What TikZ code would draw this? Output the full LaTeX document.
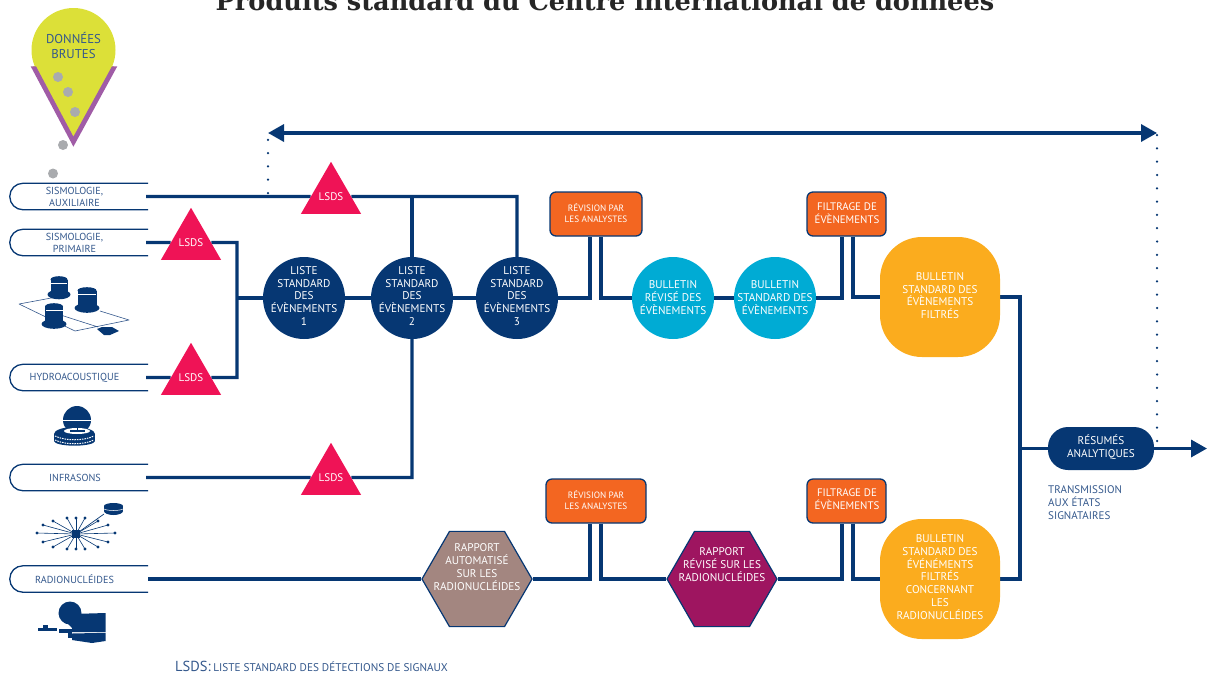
\documentclass[tikz,border=0pt]{standalone}
\usepackage{fontspec}
\setmainfont{PT Sans}
\newfontfamily\titlefont{DejaVu Serif}
\usetikzlibrary{shapes.geometric,arrows.meta}
\definecolor{navy}{HTML}{063773}
\definecolor{tabtxt}{HTML}{34588C}
\definecolor{magen}{HTML}{EF1356}
\definecolor{orng}{HTML}{F36621}
\definecolor{cyanb}{HTML}{00ABD4}
\definecolor{gold}{HTML}{FBAC1E}
\definecolor{brownh}{HTML}{A38680}
\definecolor{purph}{HTML}{9E1560}
\definecolor{lime}{HTML}{DCE038}
\definecolor{purpv}{HTML}{A05CA6}
\definecolor{grayd}{HTML}{A9ABAE}
\pgfdeclarelayer{wires}
\pgfsetlayers{wires,main}
\newcommand{\fs}[2]{\fontsize{#1}{#2}\selectfont}
\newcommand{\cylicon}[5]{%
  \fill[navy] (#1,#3) ellipse [x radius=#5 pt,y radius=4.8pt];
  \fill[navy] (#1-#4,#2) rectangle (#1+#4,#3-2);
  \fill[navy] (#1,#2) ellipse [x radius=#4 pt,y radius=3.3pt];
  \draw[white,line width=.5pt] (#1-#4+.5,#2+3.5) -- (#1+#4-.5,#2+3.5);
}
\tikzset{
  x=1pt,y=-1pt,
  wire/.style={draw=navy,line width=3.4pt,line join=miter,line cap=butt},
  dots/.style={draw=navy,line width=2.5pt,line cap=round,dash pattern=on 0pt off 13.3pt},
  tabnode/.style={minimum width=138pt,minimum height=26pt,inner sep=0pt},
  tablab/.style={inner sep=0pt,text=tabtxt,align=center,font=\fs{10.2}{11.8}},
  tabline/.style={draw=navy,line width=1.3pt,rounded corners=13pt},
  tri/.style={regular polygon,regular polygon sides=3,fill=magen,minimum size=66pt,inner sep=0pt,text=white,font=\fs{11}{12}},
  circ/.style={circle,minimum size=82pt,inner sep=0pt},
  listec/.style={circ,fill=navy},
  bullc/.style={circ,fill=cyanb},
  revbox/.style={rectangle,draw=navy,line width=1.3pt,fill=orng,rounded corners=6pt,inner sep=0pt,minimum height=44pt},
  goldb/.style={rectangle,fill=gold,rounded corners=42pt,minimum width=120pt,minimum height=120pt,inner sep=0pt},
  hexa/.style={regular polygon,regular polygon sides=6,draw=navy,line width=1.2pt,minimum size=110pt,inner sep=0pt},
  lab/.style={text=white,align=center,font=\fs{11.2}{12.8},inner sep=0pt},
  labhex/.style={text=white,align=center,font=\fs{11.2}{13},inner sep=0pt},
  labrev/.style={text=white,align=center,font=\fs{9.2}{10.6},inner sep=0pt},
  labfil/.style={text=white,align=center,font=\fs{10.9}{12.8},inner sep=0pt},
  pill/.style={rectangle,fill=navy,rounded corners=20pt,minimum width=106pt,minimum height=43pt,inner sep=0pt},
}
\begin{document}
\begin{tikzpicture}
\useasboundingbox (0,0) rectangle (1209,673);
% title
\node[font={\titlefont\bfseries\fs{25.6}{30}},text=black!85,anchor=base] (title) at (605,10) {Produits standard du Centre international de données};

% drop
\fill[lime] (73.5,50) circle [radius=42pt];
\fill[lime] (33,66) -- (73.5,145) -- (114,66) -- cycle;
\fill[purpv] (30.7,66.3) -- (73.4,146.7) -- (117.3,66.3) -- (112,66.3) -- (73.4,136.7) -- (36,66.3) -- cycle;
\node[text=tabtxt,align=center,font=\fs{12.8}{15}] (raw) at (73.5,46) {DONNÉES\\BRUTES};
\foreach \px/\py in {58/77,68/92,75/112,63/145,53/173.5}
  \fill[grayd] (\px,\py) circle [radius=5pt];

% source tabs
\node[tabnode] (s1) at (79,196.5) {};
\node[tabnode] (s2) at (79,242.5) {};
\node[tabnode] (s3) at (79,377.5) {};
\node[tabnode] (s4) at (79,477.5) {};
\node[tabnode] (s5) at (79,579) {};
\foreach \n in {s1,s2,s3,s4,s5}
  \draw[tabline] (\n.north east) -- (\n.north west) -- (\n.south west) -- (\n.south east);
\node[tablab] (s1t) at (74.5,197) {SISMOLOGIE,\\AUXILIAIRE};
\node[tablab] (s2t) at (74.5,243) {SISMOLOGIE,\\PRIMAIRE};
\node[tablab] (s3t) at (74.5,378) {HYDROACOUSTIQUE};
\node[tablab] (s4t) at (75,478) {INFRASONS};
\node[tablab] (s5t) at (74.5,579.5) {RADIONUCLÉIDES};

% main nodes
\node[tri] (t1) at (331,196.5) {LSDS};
\node[tri] (t2) at (191,242.5) {LSDS};
\node[tri] (t3) at (191,377.5) {LSDS};
\node[tri] (t4) at (331,477.5) {LSDS};
\node[listec] (l1) at (304,298) {};
\node[listec] (l2) at (412,298) {};
\node[listec] (l3) at (517,298) {};
\node[bullc] (b1) at (673,298) {};
\node[bullc] (b2) at (775,298) {};
\node[revbox,minimum width=92pt] (r1) at (596,214) {};
\node[revbox,minimum width=79pt] (f1) at (846.5,214) {};
\node[revbox,minimum width=100pt] (r2) at (596,501) {};
\node[revbox,minimum width=79pt] (f2) at (846.5,501) {};
\node[goldb] (g1) at (940,297) {};
\node[goldb] (g2) at (940,579) {};
\node[hexa,fill=brownh] (h1) at (477,579) {};
\node[hexa,fill=purph] (h2) at (722,579) {};
\node[pill] (res) at (1101,448.5) {};

% labels
\node[lab] (l1t) at (304,296) {LISTE\\STANDARD\\DES\\ÉVÈNEMENTS\\1};
\node[lab] (l2t) at (412,296) {LISTE\\STANDARD\\DES\\ÉVÈNEMENTS\\2};
\node[lab] (l3t) at (517,296) {LISTE\\STANDARD\\DES\\ÉVÈNEMENTS\\3};
\node[lab] (b1t) at (673,297.5) {BULLETIN\\RÉVISÉ DES\\ÉVÈNEMENTS};
\node[lab] (b2t) at (775,297.5) {BULLETIN\\STANDARD DES\\ÉVÈNEMENTS};
\node[labrev] (r1t) at (596,213) {RÉVISION PAR\\LES ANALYSTES};
\node[labfil] (f1t) at (847,213) {FILTRAGE DE\\ÉVÈNEMENTS};
\node[labrev] (r2t) at (596,500) {RÉVISION PAR\\LES ANALYSTES};
\node[labfil] (f2t) at (847,499.5) {FILTRAGE DE\\ÉVÈNEMENTS};
\node[lab] (g1t) at (940,295.5) {BULLETIN\\STANDARD DES\\ÉVÈNEMENTS\\FILTRÉS};
\node[lab] (g2t) at (940,577) {BULLETIN\\STANDARD DES\\ÉVÉNÉMENTS\\FILTRÉS\\CONCERNANT\\LES\\RADIONUCLÉIDES};
\node[labhex] (h1t) at (477,567) {RAPPORT\\AUTOMATISÉ\\SUR LES\\RADIONUCLÉIDES};
\node[labhex] (h2t) at (722,564.5) {RAPPORT\\RÉVISÉ SUR LES\\RADIONUCLÉIDES};
\node[lab] (rest) at (1101,447) {RÉSUMÉS\\ANALYTIQUES};

% helper coordinates
\coordinate (jA) at (237,298);
\coordinate (jD) at (1020,449);
\coordinate (r1a) at (590,214);
\coordinate (r1b) at (601,214);
\coordinate (f1a) at (842,214);
\coordinate (f1b) at (853,214);
\coordinate (r2a) at (590,501);
\coordinate (r2b) at (601,501);
\coordinate (f2a) at (842,501);
\coordinate (f2b) at (853,501);
\coordinate (arL) at (268,133);
\coordinate (arR) at (1157,133);
\coordinate (dropL) at (268,193);
\coordinate (dropR) at (1157,441);
\coordinate (outp) at (1207,448.5);

\begin{pgfonlayer}{wires}
\draw[wire] ([xshift=-2pt]s1.east) -- (t1) -- (l3 |- t1) -- (l3.north);
\draw[wire] (l2 |- t1) -- (l2.north);
\draw[wire] ([xshift=-2pt]s2.east) -- (t2) -- (jA |- t2) -- (jA |- t3) -- (t3) -- ([xshift=-2pt]s3.east);
\draw[wire] (jA) -- (l1.west);
\draw[wire] (l1.east) -- (l2.west);
\draw[wire] (l2.east) -- (l3.west);
\draw[wire] ([xshift=-2pt]s4.east) -- (t4) -- (l2 |- t4) -- (l2.south);
\draw[wire] (l3.east) -- (r1a |- l3) -- (r1a |- r1.south);
\draw[wire] (r1b |- r1.south) -- (r1b |- b1) -- (b1.west);
\draw[wire] (b1.east) -- (b2.west);
\draw[wire] (b2.east) -- (f1a |- b2) -- (f1a |- f1.south);
\draw[wire] (f1b |- f1.south) -- (f1b |- g1) -- (g1.west);
\draw[wire] (g1.east) -- (jD |- g1) -- (jD |- g2) -- (g2.east);
\draw[wire] (jD |- res) -- (res.west);
\draw[wire] (s5.east) -- (h1.west);
\draw[wire] (h1.east) -- (r2a |- h1) -- (r2a |- r2.south);
\draw[wire] (r2b |- r2.south) -- (r2b |- h2) -- (h2.west);
\draw[wire] (h2.east) -- (f2a |- h2) -- (f2a |- f2.south);
\draw[wire] (f2b |- f2.south) -- (f2b |- g2) -- (g2.west);
\draw[navy,line width=3.4pt,-{Triangle[length=16pt,width=17pt]}] (res.east) -- (outp);
\draw[navy,line width=3.4pt,{Triangle[length=16pt,width=17pt]}-{Triangle[length=16pt,width=17pt]}] (arL) -- (arR);
\draw[dots] (dropL) -- (arL);
\draw[dots] (dropR) -- (arR);
\end{pgfonlayer}

% side texts
\node[anchor=north west,inner sep=0pt,text=tabtxt,align=left,font=\fs{11}{13}] (trans) at (1048,485.5) {TRANSMISSION\\AUX ÉTATS\\SIGNATAIRES};
\node[anchor=base west,inner sep=0pt,text=tabtxt] (note) at (175,671) {{\fs{14.5}{16}LSDS:} {\fs{11.2}{14}LISTE STANDARD DES DÉTECTIONS DE SIGNAUX}};

% icon: seismic array
\draw[tabtxt,line width=.6pt,line join=round] (19,304) -- (62,296) (100,311) -- (129,320) -- (75,331) -- (19,304) (45,310) -- (98,327);
\cylicon{59}{279.5}{294.5}{8.5}{11.5}
\cylicon{87}{290.5}{308}{9.5}{12.5}
\cylicon{54}{306.5}{324}{9}{12.5}
\fill[navy] (97,329) -- (102,327) -- (112,327) -- (119,331) -- (110,335) -- (104,335) -- cycle;

% icon: hydroacoustic
\fill[navy] (77,420) circle [radius=14pt];
\fill[white] (57,428.5) rectangle (97,436);
\fill[navy] (74.5,434) ellipse [x radius=20.5pt,y radius=7pt];
\fill[navy] (54,434) rectangle (95,441);
\fill[navy] (74.5,441) ellipse [x radius=20.5pt,y radius=4.7pt];
\fill[white] (77,431) ellipse [x radius=13pt,y radius=3pt];
\draw[white,line width=.5pt] (63,420) -- (91,420);
\fill[navy] (76.5,423) rectangle (78,432);
\fill[navy] (70,429.5) rectangle (85,431.5);
\draw[white,line width=1pt,dash pattern=on 1.5pt off 1pt] (55,436) .. controls (65,441) and (84,441) .. (94,436);
\draw[white,line width=1pt,dash pattern=on 1.5pt off 1pt] (55,440) .. controls (65,445) and (84,445) .. (94,440);

% icon: infrasound star
\foreach \ex/\ey in {37/533,43/525,53/521,67/518,76/518,85/518,98/521,108/525,115/533,108/542,98/547,85/549,76/549,67/549,53/547,43/542}{
  \draw[navy,line width=.6pt] (76,534) -- (\ex,\ey);
  \fill[navy] (\ex,\ey) circle [radius=1.6pt];
}
\draw[navy,line width=.7pt] (76,534) -- (104,514);
\fill[navy] (72,530) rectangle (80,538);
\fill[navy] (113.5,511) ellipse [x radius=9.5pt,y radius=4pt];
\fill[navy] (104,506) rectangle (123,511);
\fill[navy] (113.5,506) ellipse [x radius=9.5pt,y radius=3pt];
\draw[white,line width=.5pt] (104,509) .. controls (108,511) and (119,511) .. (123,509);

% icon: radionuclide
\fill[navy] (70,613) circle [radius=11.5pt];
\fill[navy] (58.5,614) -- (72,613) -- (72,628) -- cycle;
\fill[navy] (38,627.5) rectangle (57,630.5);
\fill[navy] (43,624.5) rectangle (48,628);
\fill[navy] (59,629) rectangle (72,633);
\fill[navy] (68,633) rectangle (72,638);
\fill[navy] (72,614) -- (105.5,613) -- (105.5,632) -- (72,632) -- cycle;
\fill[navy] (72,633.5) -- (105.5,632.8) -- (105.5,641) -- (92,643) -- (72,640) -- cycle;
\end{tikzpicture}
\end{document}
